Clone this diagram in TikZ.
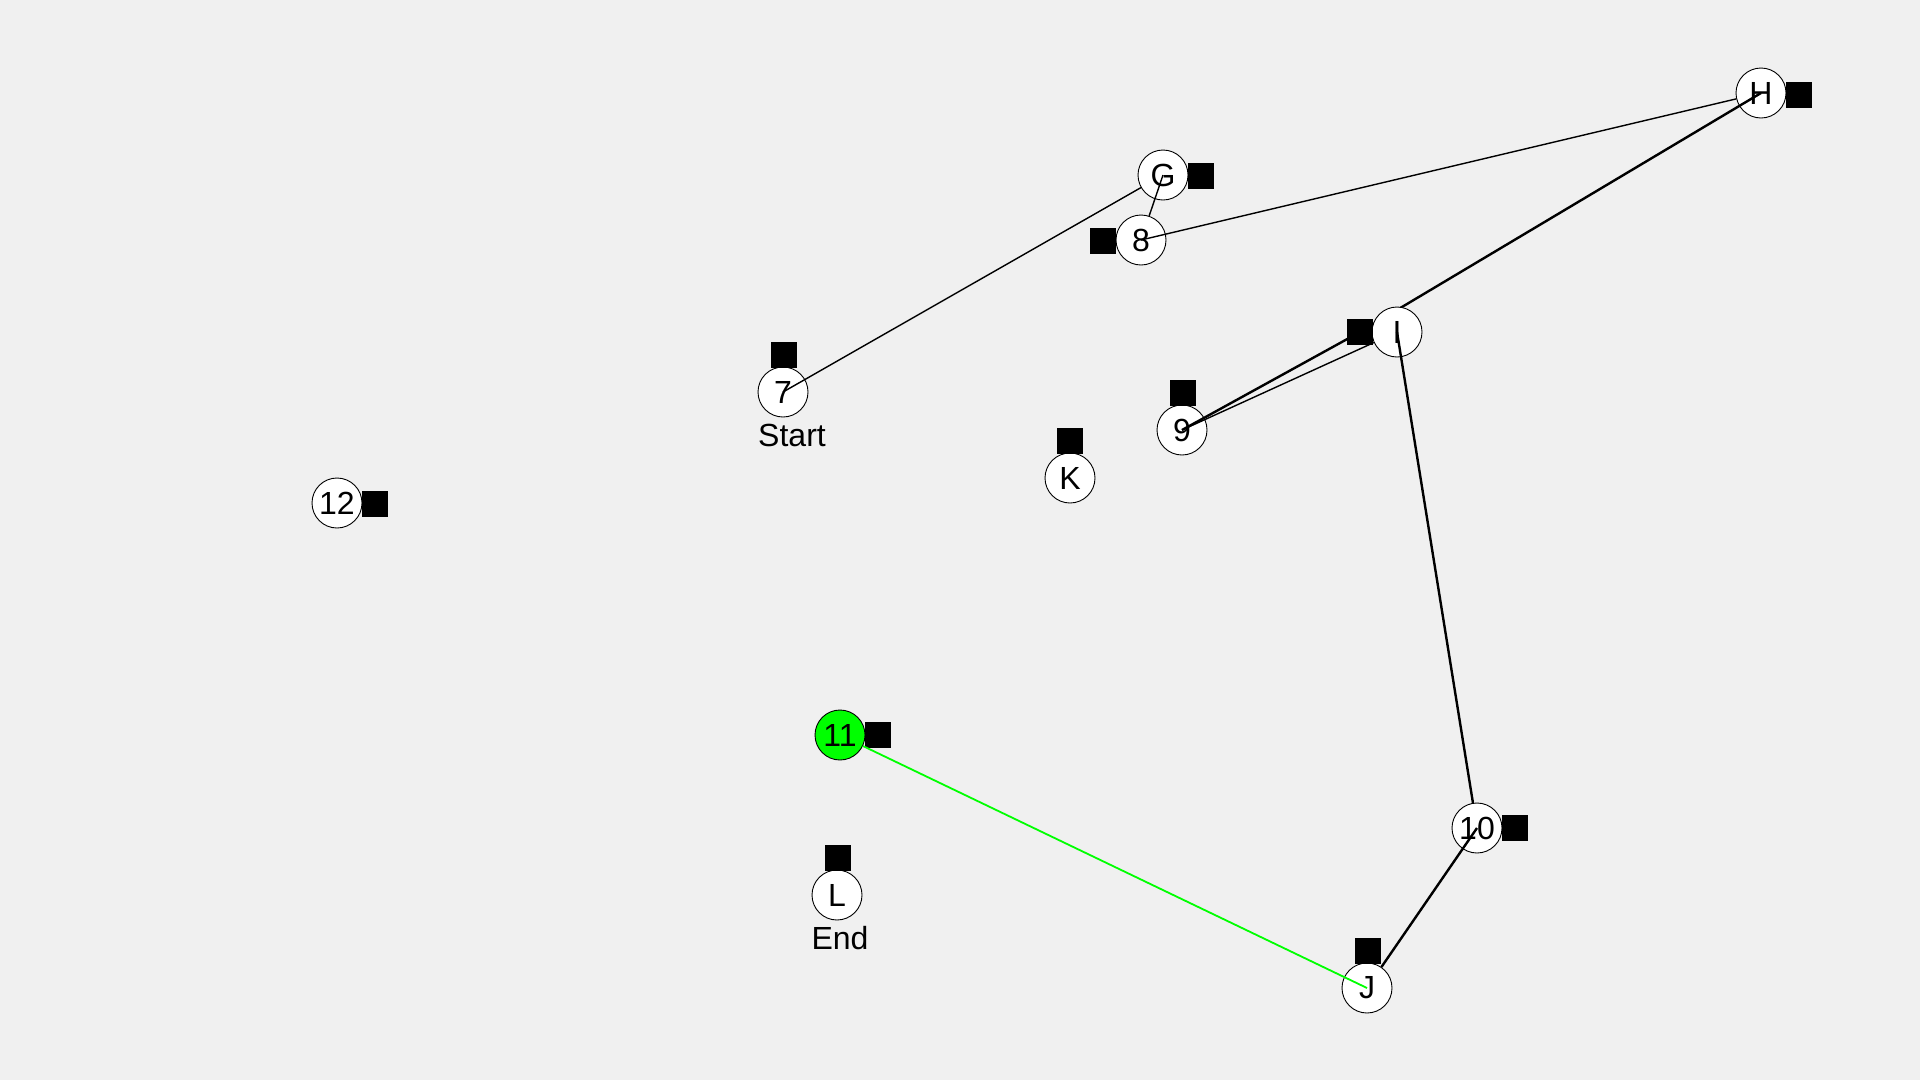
\documentclass[tikz,border=0pt]{standalone}
\usepackage{fontspec}
\setmainfont{Liberation Sans}
\begin{document}
\begin{tikzpicture}[x=1pt,y=-1pt,
  vert/.style={circle,draw=black,line width=0.9pt,fill=white,minimum size=50pt,inner sep=0pt,font=\fontsize{32}{38}\selectfont},
  sq/.style={rectangle,fill=black,minimum size=26pt,inner sep=0pt},
  lbl/.style={font=\fontsize{32}{38}\selectfont,inner sep=0pt},
  thin/.style={draw=black,line width=1.4pt},
  thick/.style={draw=black,line width=2.4pt},
  greenl/.style={draw={rgb,255:red,0;green,255;blue,0},line width=1.8pt}]
\fill[fill={rgb,255:red,240;green,240;blue,240}] (0,0) rectangle (1920,1080);
\useasboundingbox (0,0) rectangle (1920,1080);
\coordinate (pI) at (1397,332);
\coordinate (psI) at (1360,332);
% nodes
\node[vert] (n7) at (783,392) {7};
\node[sq] (s7) at (784,355) {};
\node[lbl] (start) at (792,435) {Start};
\node[vert] (nG) at (1163,175) {G};
\node[sq] (sG) at (1201,176) {};
\node[vert] (n8) at (1141,240) {8};
\node[sq] (s8) at (1103,241) {};
\node[vert] (nH) at (1761,93) {H};
\node[sq] (sH) at (1799,95) {};
\draw[thick] (nH.center) -- (psI);
\node[vert] (nI) at (pI) {I};
\node[sq] (sI) at (psI) {};
\node[vert] (n9) at (1182,430) {9};
\node[sq] (s9) at (1183,393) {};
\node[vert] (nK) at (1070,478) {K};
\node[sq] (sK) at (1070,441) {};
\node[vert] (n12) at (337,503) {12};
\node[sq] (s12) at (375,504) {};
\node[vert,fill={rgb,255:red,0;green,255;blue,0}] (n11) at (840,735) {11};
\node[sq] (s11) at (878,735) {};
\node[vert] (n10) at (1477,828) {10};
\node[sq] (s10) at (1515,828) {};
\node[vert] (nL) at (837,895) {L};
\node[sq] (sL) at (838,858) {};
\node[lbl] (end) at (840,938) {End};
\node[vert] (nJ) at (1367,988) {J};
\node[sq] (sJ) at (1368,951) {};
% edges
\draw[thin] (n7.center) -- (nG);
\draw[thin] (nG.center) -- (n8);
\draw[thin] (n8.center) -- (nH);
\draw[thick] (n9.center) -- (sI.center);
\draw[thin] (n9.center) -- (nI);
\draw[thick] (nI.center) -- (n10);
\draw[thick] (n10.center) -- (nJ);
\draw[greenl] (nJ.center) -- (n11);
\end{tikzpicture}
\end{document}
